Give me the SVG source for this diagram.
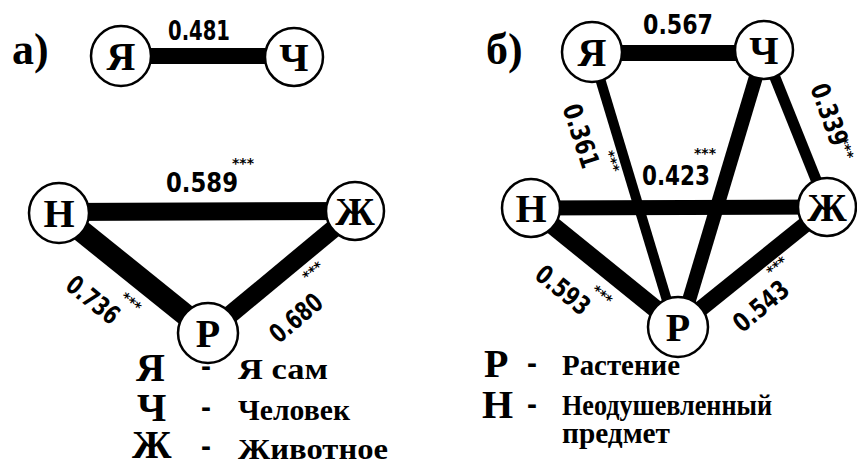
<svg xmlns="http://www.w3.org/2000/svg" width="857" height="469" viewBox="0 0 857 469">
<style>
.edge{stroke:#000;stroke-linecap:butt;fill:none}
.node circle{fill:#fff;stroke:#000;stroke-width:2.5}
.node text{font-family:"Liberation Serif","DejaVu Serif",serif;font-weight:bold;font-size:40px;text-anchor:middle}
.num{font-family:"DejaVu Sans Condensed","DejaVu Sans",sans-serif;font-weight:bold;font-size:26px;text-anchor:middle}
.st{font-family:"DejaVu Sans",sans-serif;font-weight:bold;font-size:14px;text-anchor:middle;fill:#000}
.title{font-family:"Liberation Serif","DejaVu Serif",serif;font-weight:bold;font-size:44px}
.lg{font-family:"Liberation Serif","DejaVu Serif",serif;font-weight:bold;font-size:40px}
.lt{font-family:"Liberation Serif","DejaVu Serif",serif;font-weight:bold;font-size:30px}
.dash{font-family:"Liberation Sans","DejaVu Sans",sans-serif;font-weight:bold;font-size:30px}
</style>
<rect width="857" height="469" fill="#fff"/>
<text class="title" x="12" y="64">а)</text>
<text class="title" x="486" y="64">б)</text>
<g id="connectors">
<line class="edge" x1="121" y1="56" x2="294" y2="56" stroke-width="16"/>
<line class="edge" x1="59" y1="212" x2="355" y2="211" stroke-width="18"/>
<line class="edge" x1="59" y1="213" x2="208" y2="333" stroke-width="22"/>
<line class="edge" x1="355" y1="211" x2="208" y2="333" stroke-width="18"/>
<line class="edge" x1="592" y1="53" x2="764" y2="53" stroke-width="16"/>
<line class="edge" x1="531" y1="208" x2="827" y2="207" stroke-width="15"/>
<line class="edge" x1="592" y1="52" x2="675" y2="327" stroke-width="10"/>
<line class="edge" x1="764" y1="50" x2="681" y2="327" stroke-width="14"/>
<line class="edge" x1="764" y1="50" x2="827" y2="207" stroke-width="11"/>
<line class="edge" x1="531" y1="208" x2="678" y2="327" stroke-width="18"/>
<line class="edge" x1="827" y1="207" x2="678" y2="327" stroke-width="16"/>
</g>
<g id="labels">
<text class="num" x="199" y="40" textLength="62" lengthAdjust="spacingAndGlyphs">0.481</text>
<text class="num" x="202" y="192" textLength="72" lengthAdjust="spacingAndGlyphs">0.589</text>
<text class="st" x="243" y="168">***</text>
<text class="num" transform="translate(93,300) rotate(39)" x="0" y="9" textLength="60" lengthAdjust="spacingAndGlyphs">0.736</text>
<text class="st" transform="translate(128,306) rotate(39)" x="0" y="0">***</text>
<text class="num" transform="translate(296,318) rotate(-40)" x="0" y="9" textLength="60" lengthAdjust="spacingAndGlyphs">0.680</text>
<text class="st" transform="translate(316,275) rotate(-40)" x="0" y="0">***</text>
<text class="num" x="678" y="34" textLength="70" lengthAdjust="spacingAndGlyphs">0.567</text>
<text class="num" x="676" y="185" textLength="68" lengthAdjust="spacingAndGlyphs">0.423</text>
<text class="st" x="705" y="158">***</text>
<text class="num" transform="translate(581,136) rotate(72)" x="0" y="9" textLength="66" lengthAdjust="spacingAndGlyphs">0.361</text>
<text class="st" transform="translate(607,163) rotate(72)" x="0" y="0">***</text>
<text class="num" transform="translate(820,118) rotate(70)" x="0" y="-1" textLength="64" lengthAdjust="spacingAndGlyphs">0.339</text>
<text class="st" transform="translate(841,150) rotate(70)" x="0" y="0">***</text>
<text class="num" transform="translate(563,290) rotate(39)" x="0" y="9" textLength="62" lengthAdjust="spacingAndGlyphs">0.593</text>
<text class="st" transform="translate(599,299) rotate(39)" x="0" y="0">***</text>
<text class="num" transform="translate(761,306) rotate(-40)" x="0" y="9" textLength="64" lengthAdjust="spacingAndGlyphs">0.543</text>
<text class="st" transform="translate(780,270) rotate(-40)" x="0" y="0">***</text>
</g>
<g id="node-ya-a" class="node"><circle cx="121" cy="56" r="30"/><text x="121" y="70">Я</text></g>
<g id="node-ch-a" class="node"><circle cx="294" cy="57" r="29"/><text x="294" y="71">Ч</text></g>
<g id="node-n-a" class="node"><circle cx="59" cy="213" r="30"/><text x="59" y="227">Н</text></g>
<g id="node-zh-a" class="node"><circle cx="355" cy="211" r="29"/><text x="355" y="225">Ж</text></g>
<g id="node-r-a" class="node"><circle cx="208" cy="333" r="30"/><text x="208" y="347">Р</text></g>
<g id="node-ya-b" class="node"><circle cx="592" cy="52" r="30"/><text x="592" y="66">Я</text></g>
<g id="node-ch-b" class="node"><circle cx="764" cy="50" r="29"/><text x="764" y="64">Ч</text></g>
<g id="node-n-b" class="node"><circle cx="531" cy="208" r="29"/><text x="531" y="222">Н</text></g>
<g id="node-zh-b" class="node"><circle cx="827" cy="207" r="29"/><text x="827" y="221">Ж</text></g>
<g id="node-r-b" class="node"><circle cx="678" cy="327" r="30"/><text x="678" y="341">Р</text></g>
<g id="legend">
<text class="lg" x="136" y="381">Я</text>
<text class="dash" x="201" y="376">-</text>
<text class="lt" x="238" y="379" textLength="90" lengthAdjust="spacingAndGlyphs">Я сам</text>
<text class="lg" x="137" y="421">Ч</text>
<text class="dash" x="201" y="417">-</text>
<text class="lt" x="238" y="420" textLength="112" lengthAdjust="spacingAndGlyphs">Человек</text>
<text class="lg" x="132" y="458">Ж</text>
<text class="dash" x="201" y="456">-</text>
<text class="lt" x="238" y="459" textLength="150" lengthAdjust="spacingAndGlyphs">Животное</text>
<text class="lg" x="484" y="377">Р</text>
<text class="dash" x="527" y="373">-</text>
<text class="lt" x="562" y="375" textLength="118" lengthAdjust="spacingAndGlyphs">Растение</text>
<text class="lg" x="482" y="418">Н</text>
<text class="dash" x="527" y="414">-</text>
<text class="lt" x="562" y="415" textLength="210" lengthAdjust="spacingAndGlyphs">Неодушевленный</text>
<text class="lt" x="562" y="443" textLength="108" lengthAdjust="spacingAndGlyphs">предмет</text>
</g>
</svg>
